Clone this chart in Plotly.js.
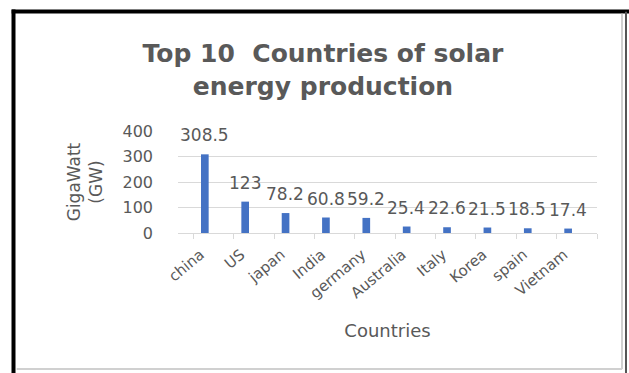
<!DOCTYPE html>
<html><head><meta charset="utf-8">
<script src="https://cdn.plot.ly/plotly-3.0.1.min.js"></script>
<style>html,body{margin:0;padding:0;background:#fff;}#chart{width:629px;height:373px;}</style>
</head><body><div id="chart"></div>
<script>
const countries = ["china","US","japan","India","germany","Australia","Italy","Korea","spain","Vietnam"];
const gigawatts = [308.5,123,78.2,60.8,59.2,25.4,22.6,21.5,18.5,17.4];
const valueLabels = ["308.5","123","78.2","60.8","59.2","25.4","22.6","21.5","18.5","17.4"];
const yTicks = [0,100,200,300,400];

const FONT = 'DejaVu Sans';
const GRAY = '#595959';

const trace = {
  type: 'bar', x: countries, y: gigawatts,
  width: 0.19, offset: -0.31,
  marker: {color: '#4472C4'}, hoverinfo: 'none'
};
const annotations = countries.map((c, i) => ({
  x: c, y: gigawatts[i], text: valueLabels[i], showarrow: false,
  xanchor: 'center', yanchor: 'middle', yshift: 19, xshift: -9,
  font: {family: FONT, size: 17, color: GRAY}
}));
const layout = {
  width: 629, height: 373,
  margin: {l: 178, r: 32, t: 131, b: 140},
  paper_bgcolor: '#fff', plot_bgcolor: '#fff',
  showlegend: false,
  font: {family: FONT, color: GRAY},
  title: {text: 'Top 10  Countries of solar<br>energy production', x: 0.5135, xanchor: 'center', y: 0.8325, yanchor: 'middle',
    font: {family: FONT, size: 25, color: GRAY, weight: 'bold'}},
  xaxis: {automargin: false, tickangle: -40, tickfont: {family: FONT, size: 15, color: GRAY}, showline: true, linecolor: '#d9d9d9', linewidth: 1,
    ticks: 'outside', tickson: 'boundaries', ticklen: 5, tickcolor: '#d9d9d9', ticklabelstandoff: 6, ticklabelshift: -13,
    title: {text: 'Countries', font: {family: FONT, size: 18, color: GRAY}, standoff: 23}},
  yaxis: {automargin: false, range: [0, 400], tickvals: yTicks, tickfont: {family: FONT, size: 16, color: GRAY}, gridcolor: '#d9d9d9', zeroline: false,
    ticks: '', ticklabelstandoff: 24,
    title: {text: 'GigaWatt<br>(GW)', font: {family: FONT, size: 17, color: GRAY}, standoff: 15}},
  annotations: annotations,
  shapes: [
    {type: 'line', xref: 'paper', yref: 'paper', x0: -0.3926, x1: -0.3926, y0: -1.40, y1: 2.19, line: {color: '#000', width: 4}},
    {type: 'line', xref: 'paper', yref: 'paper', x0: -0.397, x1: 1.08, y0: 2.1716, y1: 2.1716, line: {color: '#000', width: 4}},
    {type: 'line', xref: 'paper', yref: 'paper', x0: 1.0692, x1: 1.0692, y0: -1.40, y1: 2.17, line: {color: '#555', width: 2}},
    {type: 'line', xref: 'paper', yref: 'paper', x0: 1.0597, x1: 1.0597, y0: -1.333, y1: 2.15, line: {color: '#d0d0d0', width: 2}},
    {type: 'line', xref: 'paper', yref: 'paper', x0: -0.385, x1: 1.06, y0: -1.333, y1: -1.333, line: {color: '#d0d0d0', width: 2}}
  ]
};
Plotly.newPlot('chart', [trace], layout, {displayModeBar: false, staticPlot: true});
</script></body></html>
